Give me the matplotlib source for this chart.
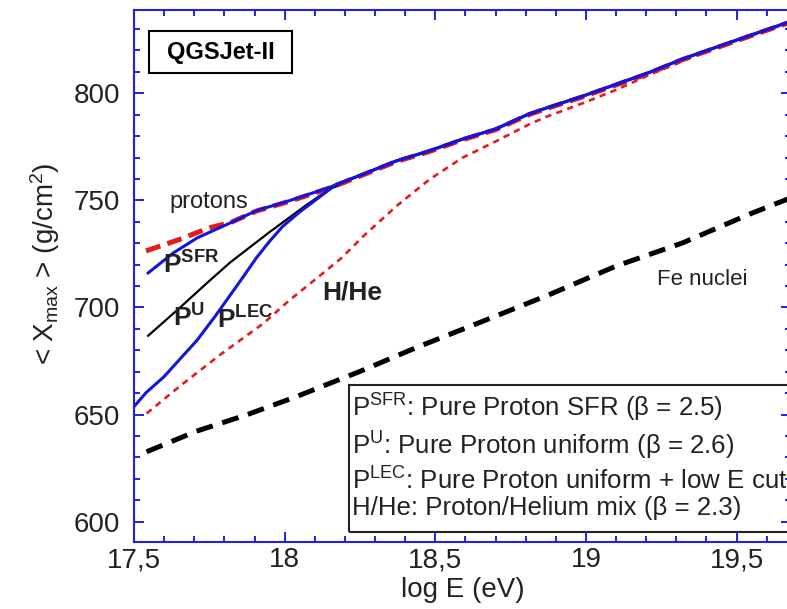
import numpy as np
import matplotlib
matplotlib.use("Agg")
import matplotlib.pyplot as plt
from matplotlib.patches import Rectangle
from matplotlib.ticker import MultipleLocator, FixedLocator

plt.rcParams['font.family'] = ['Liberation Sans', 'DejaVu Sans']
plt.rcParams['mathtext.fontset'] = 'custom'
plt.rcParams['mathtext.rm'] = 'Liberation Sans'
plt.rcParams['mathtext.it'] = 'Liberation Sans:italic'
plt.rcParams['mathtext.bf'] = 'Liberation Sans:bold'

# --- data (log E in eV, <Xmax> in g/cm2) ---
protons_x = [17.54, 17.65, 17.75, 17.82, 17.906, 18.017, 18.15, 18.26, 18.37, 18.48,
             18.59, 18.70, 18.81, 18.87, 18.99, 19.10, 19.21, 19.32, 19.43, 19.54, 19.68]
protons_y = [726.4, 731.7, 737.2, 739.6, 745.0, 749.6, 755.8, 761.9, 768.1, 772.8,
             778.3, 783.0, 790.0, 792.9, 798.4, 803.9, 809.4, 815.7, 821.1, 826.5, 833.3]

sfr_x = [17.547, 17.63, 17.71, 17.82, 17.906, 18.017, 18.15, 18.26, 18.37, 18.48,
         18.59, 18.70, 18.81, 18.87, 18.99, 19.10, 19.21, 19.32, 19.43, 19.54, 19.68]
sfr_y = [716.1, 725.4, 732.5, 739.5, 745.2, 749.9, 756.1, 762.2, 768.4, 773.1,
         778.6, 783.3, 790.3, 793.2, 798.7, 804.2, 809.7, 816.0, 821.4, 826.8, 833.6]

lec_x = [17.5, 17.54, 17.6, 17.65, 17.71, 17.77, 17.81, 17.86, 17.906, 17.95,
         17.994, 18.05, 18.105, 18.17, 18.26, 18.37, 18.48, 18.59, 18.70, 18.81,
         18.87, 18.99, 19.10, 19.21, 19.32, 19.43, 19.54, 19.68]
lec_y = [653.7, 660.2, 667.7, 675.5, 684.8, 696.0, 703.9, 713.8, 723.1, 730.9,
         737.9, 744.6, 750.4, 757.4, 762.2, 768.4, 773.1, 778.6, 783.3, 790.3,
         793.2, 798.7, 804.2, 809.7, 816.0, 821.4, 826.8, 833.6]

pu_x = [17.547, 17.65, 17.75, 17.82, 17.95, 18.07, 18.15, 18.2]
pu_y = [686.8, 699.6, 712.4, 721.1, 735.2, 747.6, 755.4, 758.0]

hhe_x = [17.542, 17.65, 17.785, 17.93, 18.017, 18.1, 18.188, 18.26, 18.37, 18.48,
         18.59, 18.70, 18.81, 18.87, 18.99, 19.10, 19.21, 19.32, 19.43, 19.54, 19.68]
hhe_y = [650.5, 663.0, 677.8, 692.6, 703.5, 712.9, 723.0, 733.1, 747.2, 759.7,
         769.9, 777.5, 785.4, 789.1, 795.4, 801.6, 808.6, 814.9, 821.5, 826.5, 833.3]

fe_x = [17.542, 17.707, 17.873, 18.04, 18.19, 18.248, 18.436, 18.657, 18.877, 19.098,
        19.32, 19.54, 19.68]
fe_y = [632.6, 642.2, 649.8, 658.4, 666.8, 670.0, 681.2, 693.5, 705.9, 719.2,
        730.1, 743.4, 751.2]

xticks = [17.5, 18, 18.5, 19, 19.5]
xticklabels = ['17,5', '18', '18,5', '19', '19,5']
yticks = [600, 650, 700, 750, 800]

legend_lines = [
    r'$\mathrm{P}^{\mathrm{SFR}}$: Pure Proton SFR (β = 2.5)',
    r'$\mathrm{P}^{\mathrm{U}}$: Pure Proton uniform (β = 2.6)',
    r'$\mathrm{P}^{\mathrm{LEC}}$: Pure Proton uniform + low E cut',
    'H/He: Proton/Helium mix (β = 2.3)',
]
legend_y = [648.8, 631.5, 614.7, 603.0]

BLUE = '#1414dc'
RED = '#e41c1c'
AXBLUE = '#2020e6'
TXT = '#222222'

fig = plt.figure(figsize=(7.87, 6.09), dpi=100)
ax = fig.add_axes([134 / 787, 67.3 / 609, 657 / 787, 531.7 / 609])

# curves
ax.plot(fe_x, fe_y, color='black', lw=3.6, dashes=(3.4, 2.0))
ax.plot(hhe_x, hhe_y, color=RED, lw=1.9, dashes=(2.4, 2.0))
ax.plot(pu_x, pu_y, color='black', lw=1.6)
ax.plot(protons_x, protons_y, color=RED, lw=3.6, dashes=(3.0, 1.5))
ax.plot(lec_x, lec_y, color=BLUE, lw=2.2)
ax.plot(sfr_x, sfr_y, color=BLUE, lw=2.2)

ax.set_xlim(17.5, 19.6806)
ax.set_ylim(590.6, 838.9)

# axis styling: blue frame, inward ticks on all sides
for s in ax.spines.values():
    s.set_color(AXBLUE)
    s.set_linewidth(1.5)
ax.xaxis.set_major_locator(FixedLocator(xticks))
ax.set_xticklabels(xticklabels)
ax.xaxis.set_minor_locator(MultipleLocator(0.1))
ax.yaxis.set_major_locator(FixedLocator(yticks))
ax.yaxis.set_minor_locator(MultipleLocator(10))
ax.tick_params(which='both', direction='in', top=True, right=True,
               color=AXBLUE, width=1.4, labelsize=20, labelcolor=TXT)
ax.tick_params(which='major', length=7)
ax.tick_params(which='minor', length=4)
ax.tick_params(axis='x', pad=4)
ax.tick_params(axis='y', pad=10)

ax.set_xlabel('log E (eV)', fontsize=20, color=TXT, labelpad=3)
ax.set_ylabel(r'< X$_{\mathrm{max}}$ > (g/cm$^{2}$)', fontsize=20, color=TXT)
ax.yaxis.set_label_coords(-0.110, 0.523)

# curve labels
ax.text(17.619, 749.3, 'protons', fontsize=17, color=TXT, va='center')
ax.text(17.596, 716.0, r'$\mathbf{P}^{\mathbf{SFR}}$', fontsize=19, color=TXT)
ax.text(17.63, 691.0, r'$\mathbf{P}^{\mathbf{U}}$', fontsize=19, color=TXT)
ax.text(17.776, 690.3, r'$\mathbf{P}^{\mathbf{LEC}}$', fontsize=19, color=TXT)
ax.text(18.126, 703.8, 'H/He', fontsize=19, fontweight='bold', color=TXT)
ax.text(19.235, 710.5, 'Fe nuclei', fontsize=16, color=TXT)

# model tag
ax.add_patch(Rectangle((0.0229, 0.8806), 0.2177, 0.079, transform=ax.transAxes,
                       fill=False, ec='black', lw=1.5))
ax.text(0.1318, 0.920, 'QGSJet-II', transform=ax.transAxes, fontsize=17,
        fontweight='bold', ha='center', va='center', color='black')

# text legend box (runs off the right edge)
ax.add_patch(Rectangle((18.215, 595.2), 2.0, 663.8 - 595.2, fill=False,
                       ec='#222222', lw=1.5, clip_on=False))
for line, yy in zip(legend_lines, legend_y):
    ax.text(18.222, yy, line, fontsize=18.6, color=TXT, va='baseline', clip_on=False)

fig.savefig('out.png', dpi=100)
